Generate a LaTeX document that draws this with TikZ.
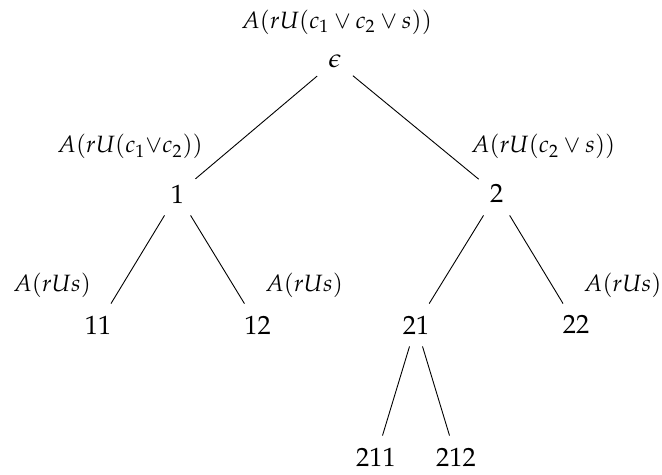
\documentclass[tikz,border=0pt]{standalone}
\usepackage[T1]{fontenc}
\usepackage{mathpazo}
\begin{document}
\begin{tikzpicture}[x=0.5pt,y=-0.5pt,
  tnode/.style={rectangle,inner xsep=5.5pt,inner ysep=0pt,minimum height=21pt,font=\fontsize{13.2}{15}\selectfont},
  elabel/.style={anchor=base,inner sep=0pt,font=\fontsize{11.8}{14}\selectfont},
  edge/.style={draw,line width=0.45pt}]
\useasboundingbox (0,0) rectangle (662,475);
\node[elabel] (top) at (336.5,28.5) {$A(rU(c_1\vee c_2\vee s))$};
\node[tnode] (e) at (335,61) {$\epsilon$};
\node[tnode] (n1) at (177.5,194) {$1$};
\node[tnode] (n2) at (496.7,194) {$2$};
\node[tnode] (n11) at (98,325) {$11$};
\node[tnode] (n12) at (257.5,325) {$12$};
\node[tnode] (n21) at (416,325) {$21$};
\node[tnode] (n22) at (576,325) {$22$};
\node[tnode] (n211) at (376,457) {$211$};
\node[tnode] (n212) at (456,457) {$212$};
\node[elabel] (l1) at (130,153) {$A(rU(c_1{\vee}c_2))$};
\node[elabel] (l2) at (543,153) {$A(rU(c_2\vee s))$};
\node[elabel] (l11) at (52,292) {$A(rUs)$};
\node[elabel] (l12) at (304,292) {$A(rUs)$};
\node[elabel] (l22) at (622.6,292) {$A(rUs)$};
\path[edge] (e) -- (n1);
\path[edge] (e) -- (n2);
\path[edge] (n1) -- (n11);
\path[edge] (n1) -- (n12);
\path[edge] (n2) -- (n21);
\path[edge] (n2) -- (n22);
\path[edge] (n21) -- (n211);
\path[edge] (n21) -- (n212);
\end{tikzpicture}
\end{document}
